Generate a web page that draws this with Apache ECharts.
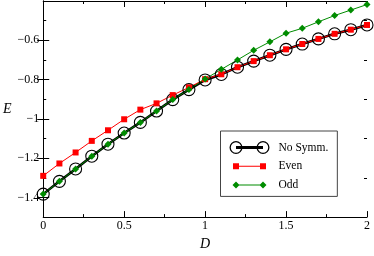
<!DOCTYPE html>
<html>
<head>
<meta charset="utf-8">
<script src="https://cdn.jsdelivr.net/npm/echarts@6/dist/echarts.min.js"></script>
<style>
html,body{margin:0;padding:0;background:#fff;}
#c{width:374px;height:256px;}
</style>
</head>
<body>
<div id="c"></div>
<script>
var D = [0,0.1,0.2,0.3,0.4,0.5,0.6,0.7,0.8,0.9,1.0,1.1,1.2,1.3,1.4,1.5,1.6,1.7,1.8,1.9,2.0];
var noSymm = [-1.383,-1.318,-1.255,-1.190,-1.129,-1.072,-1.018,-0.960,-0.902,-0.851,-0.802,-0.774,-0.737,-0.706,-0.676,-0.646,-0.619,-0.593,-0.567,-0.546,-0.522];
var even = [-1.290,-1.227,-1.171,-1.112,-1.058,-1.002,-0.953,-0.921,-0.879,-0.840,-0.798,-0.773,-0.737,-0.706,-0.676,-0.646,-0.619,-0.593,-0.567,-0.546,-0.522];
var odd = [-1.383,-1.318,-1.255,-1.190,-1.129,-1.072,-1.018,-0.960,-0.902,-0.851,-0.797,-0.748,-0.700,-0.651,-0.608,-0.564,-0.539,-0.506,-0.474,-0.446,-0.418];
var xTicks = [0,0.5,1,1.5,2];
var yMajor = [-1.4,-1.2,-1.0,-0.8,-0.6];
var yMinor = [-1.5,-1.3,-1.1,-0.9,-0.7,-0.5];
var seriesNames = ['No Symm.','Even','Odd'];

function pairs(xs, ys){ return xs.map(function(x,i){ return [x, ys[i]]; }); }
var FONT = 'Liberation Serif';
var iconNoSymm = 'path://M0,6.5 A6.5,6.5 0 1,1 13,6.5 A6.5,6.5 0 1,1 0,6.5 Z M1.3,6.5 A5.2,5.2 0 1,0 11.7,6.5 A5.2,5.2 0 1,0 1.3,6.5 Z M27,6.5 A6.5,6.5 0 1,1 40,6.5 A6.5,6.5 0 1,1 27,6.5 Z M28.3,6.5 A5.2,5.2 0 1,0 38.7,6.5 A5.2,5.2 0 1,0 28.3,6.5 Z M6.5,5.1 L33.5,5.1 L33.5,7.9 L6.5,7.9 Z M44,13 L44,13 Z';
var iconEven = 'path://M0,0 L0,0 Z M3.5,3.5 L9.5,3.5 L9.5,9.5 L3.5,9.5 Z M30.5,3.5 L36.5,3.5 L36.5,9.5 L30.5,9.5 Z M6.5,6 L33.5,6 L33.5,7 L6.5,7 Z M44,13 L44,13 Z';
var iconOdd = 'path://M0,0 L0,0 Z M6.5,3 L10,6.5 L6.5,10 L3,6.5 Z M33.5,3 L37,6.5 L33.5,10 L30,6.5 Z M6.5,6 L33.5,6 L33.5,7 L6.5,7 Z M44,13 L44,13 Z';

function yFmt(v){ v = Math.round(v*10)/10; return (v<0?'\u2212':'') + Math.abs(v); }

var chart = echarts.init(document.getElementById('c'), null, {renderer:'canvas'});
var axisLine = {show:true, lineStyle:{color:'#000', width:1}};
var option = {
  animation:false,
  backgroundColor:'#fff',
  textStyle:{fontFamily:FONT},
  grid:{left:42, right:7, top:1, bottom:27, containLabel:false},
  xAxis:[
    {type:'value', min:0, max:2, interval:0.5, position:'bottom',
     axisLine:axisLine,
     axisTick:{show:true, inside:true, length:6, lineStyle:{color:'#000'}},
     minorTick:{show:true, splitNumber:2, length:3, lineStyle:{color:'#000'}},
     splitLine:{show:false}, minorSplitLine:{show:false},
     axisLabel:{show:true, color:'#000', fontFamily:FONT, fontSize:12, margin:3},
     name:'D', nameLocation:'middle', nameGap:14,
     nameTextStyle:{fontFamily:FONT, fontStyle:'italic', fontSize:14, color:'#000'}},
    {type:'value', min:0, max:2, interval:0.5, position:'top',
     axisLine:axisLine,
     axisTick:{show:true, inside:true, length:6, lineStyle:{color:'#000'}},
     minorTick:{show:true, splitNumber:2, length:3, lineStyle:{color:'#000'}},
     splitLine:{show:false}, axisLabel:{show:false}}
  ],
  yAxis:[
    {type:'value', min:-1.5, max:-0.4, position:'left',
     axisLine:axisLine,
     axisTick:{show:true, inside:true, length:6, customValues:yMajor, lineStyle:{color:'#000'}},
     splitLine:{show:false},
     axisLabel:{show:true, customValues:yMajor, formatter:yFmt, color:'#000', fontFamily:FONT, fontSize:12, margin:4},
     name:'E', nameLocation:'middle', nameGap:31, nameRotate:0,
     nameTextStyle:{fontFamily:FONT, fontStyle:'italic', fontSize:14, color:'#000', align:'right'}},
    {type:'value', min:-1.5, max:-0.4, position:'right',
     axisLine:axisLine,
     axisTick:{show:true, inside:true, length:6, customValues:yMajor, lineStyle:{color:'#000'}},
     splitLine:{show:false}, axisLabel:{show:false}},
    {type:'value', min:-1.5, max:-0.4, position:'left',
     axisLine:{show:false},
     axisTick:{show:true, inside:true, length:3, customValues:yMinor, lineStyle:{color:'#000'}},
     splitLine:{show:false}, axisLabel:{show:false}},
    {type:'value', min:-1.5, max:-0.4, position:'right',
     axisLine:{show:false},
     axisTick:{show:true, inside:true, length:3, customValues:yMinor, lineStyle:{color:'#000'}},
     splitLine:{show:false}, axisLabel:{show:false}}
  ],
  legend:{
    show:true, orient:'vertical', left:220.5, top:131,
    padding:[10,9,5,9], itemGap:5.7, itemWidth:44, itemHeight:13,
    symbolKeepAspect:false,
    borderColor:'#444', borderWidth:1, backgroundColor:'#fff',
    itemStyle:{borderWidth:0},
    textStyle:{fontFamily:FONT, fontSize:11.5, color:'#000', lineHeight:13},
    data:[
      {name:seriesNames[0], icon:iconNoSymm, itemStyle:{color:'#000', borderWidth:0}},
      {name:seriesNames[1], icon:iconEven, itemStyle:{color:'#ff0000', borderWidth:0}},
      {name:seriesNames[2], icon:iconOdd, itemStyle:{color:'#008c00', borderWidth:0}}
    ]
  },
  series:[
    {name:seriesNames[0], type:'line', xAxisIndex:0, yAxisIndex:0, data:pairs(D,noSymm),
     symbol:'circle', symbolSize:12, showAllSymbol:true,
     lineStyle:{color:'#000', width:2.5},
     itemStyle:{color:'rgba(0,0,0,0)', borderColor:'#000', borderWidth:1.1},
     emphasis:{disabled:true}},
    {name:seriesNames[1], type:'line', xAxisIndex:0, yAxisIndex:0, data:pairs(D,even),
     symbol:'rect', symbolSize:6, showAllSymbol:true,
     lineStyle:{color:'#ff0000', width:1},
     itemStyle:{color:'#ff0000'},
     emphasis:{disabled:true}},
    {name:seriesNames[2], type:'line', xAxisIndex:0, yAxisIndex:0, data:pairs(D,odd),
     symbol:'diamond', symbolSize:7, showAllSymbol:true,
     lineStyle:{color:'#008c00', width:1},
     itemStyle:{color:'#008c00'},
     emphasis:{disabled:true}}
  ]
};
chart.setOption(option);
</script>
</body>
</html>
